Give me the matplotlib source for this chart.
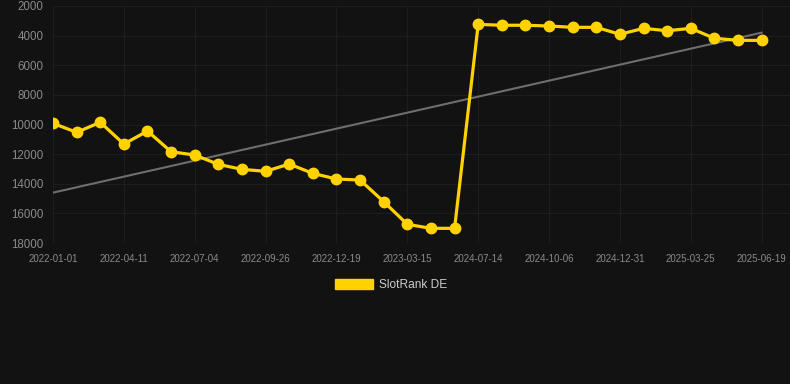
import matplotlib
matplotlib.use("Agg")
import matplotlib.pyplot as plt
from matplotlib.patches import Patch

# values
dates = ["2022-01-01", "2022-02-03", "2022-03-08", "2022-04-11", "2022-05-14",
         "2022-06-06", "2022-07-04", "2022-07-31", "2022-08-28", "2022-09-26",
         "2022-10-24", "2022-11-21", "2022-12-19", "2023-01-16", "2023-02-14",
         "2023-03-15", "2023-04-12", "2023-05-10", "2024-07-14", "2024-08-10",
         "2024-09-08", "2024-10-06", "2024-11-03", "2024-12-02", "2024-12-31",
         "2025-01-28", "2025-02-25", "2025-03-25", "2025-04-22", "2025-05-21",
         "2025-06-19"]
rank = [9920, 10530, 9850, 11320, 10440, 11840, 12060, 12690, 13030, 13160,
        12670, 13300, 13680, 13750, 15210, 16740, 17010, 17010, 3240, 3300,
        3300, 3350, 3440, 3440, 3910, 3510, 3670, 3510, 4180, 4320, 4320]
trend_start = 14600
trend_end = 3800
label_every = 3

bg = "#121212"
grid_col = "#1d1d1d"
text_col = "#8a8a8a"
yellow = "#FFD200"

plt.rcParams['font.family'] = ['Liberation Sans', 'DejaVu Sans']

fig = plt.figure(figsize=(7.9, 3.84), dpi=100, facecolor=bg)
ax = fig.add_axes([53 / 790, 1 - 243 / 384, 737 / 790, 237 / 384])
ax.set_facecolor(bg)

x = list(range(len(rank)))
ax.plot([x[0], x[-1]], [trend_start, trend_end], color="#6e6e6e", lw=1.5, zorder=2)
ax.plot(x, rank, color=yellow, lw=2.3, marker="o", markersize=7.5, zorder=3)

ax.set_ylim(18000, 2000)
ax.set_yticks(range(2000, 18001, 2000))
ax.set_xlim(0, 31.2)
ticks = x[::label_every]
ax.set_xticks(ticks)
ax.set_xticklabels([dates[i] for i in ticks])

ax.grid(True, color=grid_col, lw=0.8)
ax.set_axisbelow(True)
for s in ax.spines.values():
    s.set_visible(False)
ax.tick_params(axis="y", length=0, pad=7, labelsize=8.3, labelcolor=text_col)
ax.tick_params(axis="x", length=0, pad=8, labelsize=7, labelcolor=text_col)

fig.legend(handles=[Patch(facecolor=yellow, edgecolor=yellow)], labels=["SlotRank DE"],
           loc="center", bbox_to_anchor=(391 / 790, 1 - 285 / 384), frameon=False,
           handlelength=3.2, handleheight=0.9, handletextpad=0.55,
           prop={"size": 8.6}, labelcolor="#cccccc")

fig.savefig("out.png", dpi=100, facecolor=bg)
